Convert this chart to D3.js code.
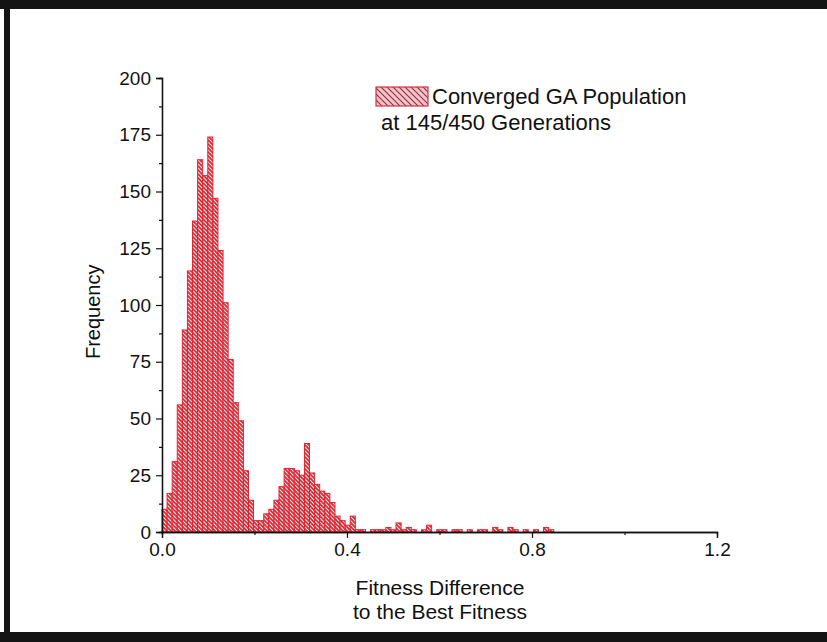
<!DOCTYPE html>
<html>
<head>
<meta charset="utf-8">
<script src="https://cdn.jsdelivr.net/npm/d3@7/dist/d3.min.js"></script>
<style>
  body { margin: 0; background: #fff; }
  svg { display: block; }
  text { font-family: "Liberation Sans", Arial, sans-serif; fill: #111; }
</style>
</head>
<body>
<script>
// histogram of fitness differences, bins of 0.011 starting at 0
var binWidth = 0.011;
var counts = [
  10, 17, 31, 56, 89, 115, 137, 164, 157, 174,
  147, 124, 101, 76, 57, 49, 27, 14, 5, 5,
  8, 10, 14, 20, 28, 28, 27, 25, 39, 26,
  21, 18, 17, 13, 7, 5, 3, 7, 1, 1,
  0, 1, 1, 1, 2, 1, 4, 1, 2, 1,
  0, 1, 3, 0, 1, 1, 0, 1, 1, 0,
  1, 0, 1, 1, 0, 2, 1, 0, 2, 1,
  0, 1, 0, 1, 0, 2, 1
];
var xTicks = [0, 0.4, 0.8, 1.2];
var xMinorTicks = [0.2, 0.6, 1.0];
var yTicks = [0, 25, 50, 75, 100, 125, 150, 175, 200];
var yMinorTicks = [12.5, 37.5, 62.5, 87.5, 112.5, 137.5, 162.5, 187.5];
var legendLines = ["Converged GA Population", "at 145/450 Generations"];
var xTitle = ["Fitness Difference", "to the Best Fitness"];
var yTitle = "Frequency";

var width = 827, height = 642;
var barRed = "#e0232f";

var svg = d3.select("body").append("svg")
    .attr("width", width)
    .attr("height", height);

var x = d3.scaleLinear().domain([0, 1.2]).range([162, 717]);
var y = d3.scaleLinear().domain([0, 200]).range([532, 78]);

// hatch pattern "\\\\"
var defs = svg.append("defs");
var hatch = defs.append("pattern")
    .attr("id", "hatch")
    .attr("patternUnits", "userSpaceOnUse")
    .attr("width", 4)
    .attr("height", 4);
hatch.append("rect").attr("width", 4).attr("height", 4).attr("fill", "#fbe4e6");
hatch.append("path")
    .attr("d", "M-1,-1 L5,5 M3,-1 L5,1 M-1,3 L1,5")
    .attr("stroke", barRed)
    .attr("stroke-width", 1.6);

var swatch = defs.append("pattern")
    .attr("id", "swatch")
    .attr("patternUnits", "userSpaceOnUse")
    .attr("width", 6)
    .attr("height", 6);
swatch.append("rect").attr("width", 6).attr("height", 6).attr("fill", "#f2c4cb");
swatch.append("path")
    .attr("d", "M-1,-1 L7,7 M5,-1 L7,1 M-1,5 L1,7")
    .attr("stroke", "#9b2a3a")
    .attr("stroke-width", 1.1);

// scanned page frame
svg.append("rect").attr("x", 0).attr("y", 0).attr("width", width).attr("height", 9).attr("fill", "#141414");
svg.append("rect").attr("x", 4).attr("y", 0).attr("width", 6).attr("height", height).attr("fill", "#141414");
svg.append("rect").attr("x", 0).attr("y", 632).attr("width", width).attr("height", 10).attr("fill", "#141414");

// bars
var bins = counts.map(function(c, i) {
    return { x0: i * binWidth, x1: (i + 1) * binWidth, count: c };
});

svg.append("g").selectAll("rect")
    .data(bins.filter(function(d) { return d.count > 0; }))
    .join("rect")
    .attr("x", function(d) { return x(d.x0); })
    .attr("y", function(d) { return y(d.count); })
    .attr("width", function(d) { return x(d.x1) - x(d.x0); })
    .attr("height", function(d) { return y(0) - y(d.count); })
    .attr("fill", "url(#hatch)")
    .attr("stroke", barRed)
    .attr("stroke-width", 1);

// axes
svg.append("g")
    .attr("transform", "translate(" + x(0) + ",0)")
    .call(d3.axisLeft(y).tickValues(yTicks).tickSize(6).tickPadding(5));
svg.append("g")
    .attr("transform", "translate(" + x(0) + ",0)")
    .call(d3.axisLeft(y).tickValues(yMinorTicks).tickSize(3).tickFormat(""));

svg.append("g")
    .attr("transform", "translate(0," + y(0) + ")")
    .call(d3.axisBottom(x).tickValues(xTicks).tickSize(6).tickPadding(5).tickFormat(d3.format(".1f")));
svg.append("g")
    .attr("transform", "translate(0," + y(0) + ")")
    .call(d3.axisBottom(x).tickValues(xMinorTicks).tickSize(3).tickFormat(""));

svg.selectAll(".domain").attr("stroke", "#111").attr("stroke-width", 1.3);
svg.selectAll(".tick line").attr("stroke", "#111").attr("stroke-width", 1.2);
svg.selectAll(".tick text").style("font-size", "19px").attr("fill", "#111")
    .style("font-family", "'Liberation Sans', Arial, sans-serif");

// titles
svg.append("text")
    .attr("transform", "translate(100," + y(97) + ") rotate(-90)")
    .attr("text-anchor", "middle")
    .style("font-size", "20px")
    .text(yTitle);

svg.selectAll(".xtitle")
    .data(xTitle)
    .join("text")
    .attr("class", "xtitle")
    .attr("x", 440)
    .attr("y", function(d, i) { return 595 + i * 24; })
    .attr("text-anchor", "middle")
    .style("font-size", "21px")
    .text(function(d) { return d; });

// legend
svg.append("rect")
    .attr("x", 376).attr("y", 87)
    .attr("width", 52).attr("height", 19)
    .attr("fill", "url(#swatch)")
    .attr("stroke", "#d8303c")
    .attr("stroke-width", 1.2);

svg.append("text")
    .attr("x", 432).attr("y", 104)
    .style("font-size", "22px")
    .text(legendLines[0]);
svg.append("text")
    .attr("x", 381).attr("y", 130)
    .style("font-size", "22px")
    .text(legendLines[1]);
</script>
</body>
</html>
